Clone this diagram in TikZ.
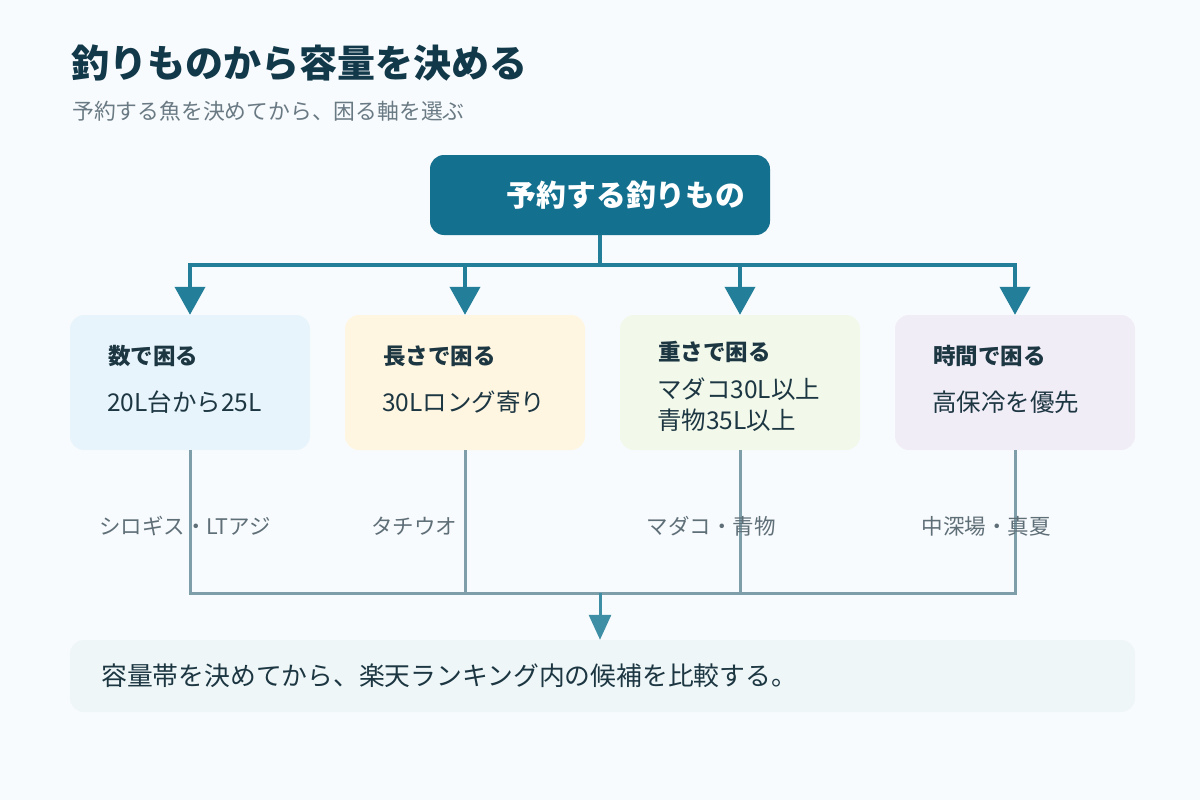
\documentclass[tikz,border=0pt]{standalone}
\usepackage{fontspec}
\setmainfont{Noto Sans CJK JP}
\usetikzlibrary{arrows.meta}
\definecolor{bgc}{HTML}{F8FBFD}
\definecolor{titlec}{HTML}{12394A}
\definecolor{subc}{HTML}{6A7A84}
\definecolor{topc}{HTML}{14708F}
\definecolor{conc}{HTML}{237F99}
\definecolor{fa}{HTML}{E8F4FB}
\definecolor{fb}{HTML}{FFF6E2}
\definecolor{fc}{HTML}{F2F8EA}
\definecolor{fd}{HTML}{F1EDF7}
\definecolor{txtc}{HTML}{1C3642}
\definecolor{lowc}{HTML}{7E9FA9}
\definecolor{arrc}{HTML}{3E8FA5}
\definecolor{botc}{HTML}{EEF6F7}
\definecolor{labc}{HTML}{5F6F78}
\tikzset{
  card/.style={rectangle,rounded corners=14pt,minimum width=240pt,minimum height=135pt,inner sep=0pt},
  cardtitle/.style={anchor=west,inner sep=0pt,font=\fontsize{22.5pt}{26pt}\selectfont\bfseries,text=txtc},
  cardbody/.style={anchor=west,inner sep=0pt,font=\fontsize{24.5pt}{28pt}\selectfont,text=txtc},
  lab/.style={anchor=center,inner sep=0pt,font=\fontsize{21.5pt}{25pt}\selectfont,text=labc},
  topline/.style={draw=conc,line width=4pt},
  toparrow/.style={topline,-{Triangle[width=30pt,length=28pt]}},
  lowline/.style={draw=lowc,line width=3pt},
}
\begin{document}
\begin{tikzpicture}[x=1pt,y=-1pt]
\useasboundingbox (0,0) rectangle (1200,800);
\fill[bgc] (0,0) rectangle (1200,800);
% title
\node[anchor=west,inner sep=0pt,font=\fontsize{38pt}{42pt}\selectfont\bfseries,text=titlec] (title) at (71,63) {釣りものから容量を決める};
\node[anchor=west,inner sep=0pt,font=\fontsize{21.8pt}{25pt}\selectfont,text=subc] (sub) at (72,111) {予約する魚を決めてから、困る軸を選ぶ};
% top box
\node[rectangle,rounded corners=14pt,minimum width=340pt,minimum height=80pt,fill=topc,inner sep=0pt] (top) at (600,195) {};
\node[inner sep=0pt,font=\fontsize{29.8pt}{33pt}\selectfont\bfseries,text=white] (toptext) at (626,195) {予約する釣りもの};
% cards
\node[card,fill=fa] (b1) at (190,382.5) {};
\node[card,fill=fb] (b2) at (465,382.5) {};
\node[card,fill=fc] (b3) at (740,382.5) {};
\node[card,fill=fd] (b4) at (1015,382.5) {};
\node[cardtitle] (t1) at (108,356) {数で困る};
\node[cardbody] (d1) at (107,402) {20L台から25L};
\node[cardtitle] (t2) at (383,356) {長さで困る};
\node[cardbody] (d2) at (382,402) {30Lロング寄り};
\node[cardtitle] (t3) at (658,352) {重さで困る};
\node[cardbody] (d3a) at (657,389) {マダコ30L以上};
\node[cardbody] (d3b) at (657,420) {青物35L以上};
\node[cardtitle] (t4) at (933,356) {時間で困る};
\node[cardbody] (d4) at (932,402) {高保冷を優先};
% top connectors
\coordinate (j) at (600,265);
\draw[topline] (top.south) -- (j);
\draw[topline,line cap=rect] (b1.north |- j) -- (b4.north |- j);
\foreach \b in {b1,b2,b3,b4}{
  \draw[toparrow] (\b.north |- j) -- (\b.north);
}
% bottom box
\node[rectangle,rounded corners=14pt,minimum width=1065pt,minimum height=72pt,fill=botc,inner sep=0pt] (bot) at (602.5,676) {};
\node[anchor=west,inner sep=0pt,font=\fontsize{25.8pt}{29pt}\selectfont,text=txtc] (bottext) at (101,676) {容量帯を決めてから、楽天ランキング内の候補を比較する。};
% lower connectors
\coordinate (k) at (600,593);
\foreach \b in {b1,b2,b3,b4}{
  \draw[lowline] (\b.south) -- (\b.south |- k);
}
\draw[lowline,line cap=rect] (b1.south |- k) -- (b4.south |- k);
\draw[draw=arrc,line width=3pt,-{Triangle[width=22pt,length=25pt]}] (k) -- (bot.north -| k);
% labels
\node[lab] (l1) at (185,526) {シロギス・LTアジ};
\node[lab] (l2) at (414,526) {タチウオ};
\node[lab] (l3) at (711,526) {マダコ・青物};
\node[lab] (l4) at (986,526) {中深場・真夏};
\end{tikzpicture}
\end{document}
